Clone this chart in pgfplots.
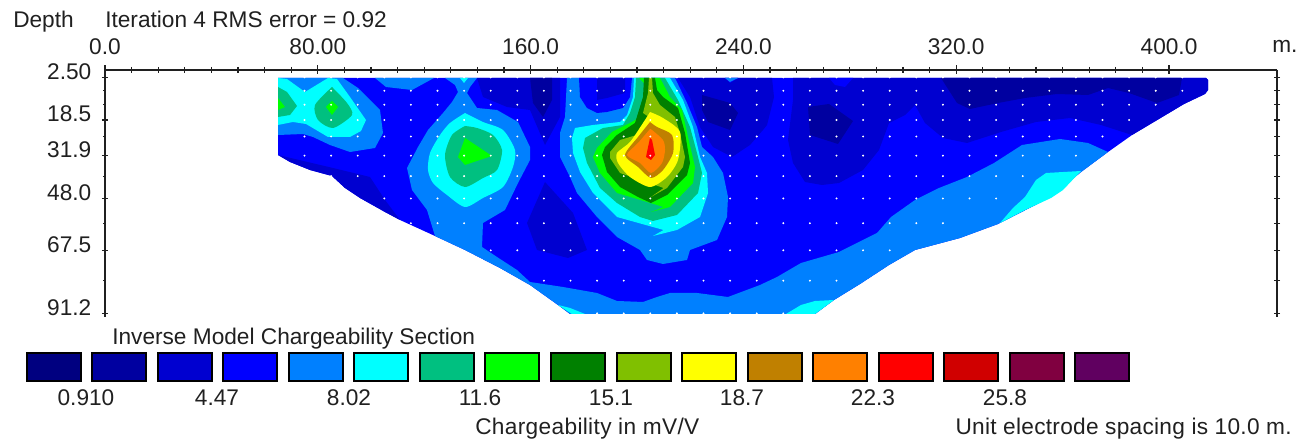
\documentclass[border=0pt]{standalone}
\usepackage{fontspec}
\setmainfont{Liberation Sans}
\usepackage{pgfplots}
\pgfplotsset{compat=1.18}
\definecolor{c1}{HTML}{000080}\definecolor{c2}{HTML}{0000A0}\definecolor{c3}{HTML}{0000D0}\definecolor{c4}{HTML}{0000FF}
\definecolor{c5}{HTML}{0080FF}\definecolor{c6}{HTML}{00FFFF}\definecolor{c7}{HTML}{00C080}\definecolor{c8}{HTML}{00FF00}
\definecolor{c9}{HTML}{008000}\definecolor{c10}{HTML}{80C000}\definecolor{c11}{HTML}{FFFF00}\definecolor{c12}{HTML}{C08000}
\definecolor{c13}{HTML}{FF8000}\definecolor{c14}{HTML}{FF0000}\definecolor{c15}{HTML}{D00000}\definecolor{c16}{HTML}{800040}\definecolor{c17}{HTML}{600060}
\definecolor{ink}{HTML}{202020}
\newcommand{\fs}{\fontsize{17}{19}\selectfont}
\pgfplotsset{
  every non boxed x axis/.append style={x axis line style={-}},every non boxed y axis/.append style={y axis line style={-}},
  sect/.style={scale only axis,width=879pt,height=185.25pt,xmin=0,xmax=440.6,ymin=-0.3,ymax=92.56,y dir=reverse,clip=false,
    axis line style={ink,line width=0.95pt},tick style={ink,line width=0.8pt},tick align=outside},
  poly/.style={fill=#1,draw=none,forget plot,x filter/.expression={(x-105)/2.66},y filter/.expression={(y-70.8)/2.66}},
  round/.style={poly=#1,smooth,tension=0.45},
}
\begin{document}
\begin{tikzpicture}
\path[use as bounding box] (-78.75pt,-93pt) rectangle (894.75pt,237.75pt);
\begin{axis}[sect,axis x line=top,axis y line=none,
  xtick={0,80,160,240,320,400},xticklabels={0.0,80.00,160.0,240.0,320.0,400.0},minor x tick num=7,
  major tick length=6.75pt,minor tick length=4.5pt,
  xticklabel style={font=\fs,text=ink,yshift=4.5pt}]
\addplot[poly=c4] coordinates {(278,78)(1206,78)(1208,80)(1208,90)(1205,94)(1184,104)(1132,135)(1108,152)(1081,172)(1051,197)(998,224)(960,238)(915,250)(889,265)(860,284)(834,300)(815,314)(570,314)(558,305)(530,285)(500,268)(465,250)(435,236)(400,220)(385,212)(360,198)(345,188)(332,176)(310,170)(290,162)(278,155)};
% darker zones
\addplot[poly=c3] coordinates {(278,155)(333,168)(370,177)(385,200)(400,220)(385,212)(360,198)(345,188)(332,176)(310,170)(290,162)};
\addplot[poly=c3] coordinates {(477,78)(483,97)(507,107)(530,110)(545,145)(560,117)(560,78)};
\addplot[poly=c2] coordinates {(530,78)(533,103)(543,117)(552,100)(552,78)};
\addplot[poly=c3] coordinates {(678,78)(690,97)(700,127)(713,147)(732,157)(750,145)(763,130)(767,125)(770,113)(774,97)(772,78)};
\addplot[poly=c2] coordinates {(702,95)(730,103)(738,113)(730,130)(708,122)(702,110)};
\addplot[poly=c4] coordinates {(725,78)(730,83)(738,78)};
\addplot[poly=c3] coordinates {(793,78)(793,100)(788,140)(793,163)(805,182)(822,185)(839,183)(863,170)(879,150)(889,123)(905,115)(915,105)(925,123)(943,138)(967,143)(1001,132)(1036,122)(1070,118)(1101,125)(1132,135)(1184,104)(1205,94)(1208,90)(1208,80)(1206,78)};
\addplot[poly=c4] coordinates {(829,78)(835,85)(845,87)(853,78)};
\addplot[poly=c2] coordinates {(808,107)(829,104)(853,121)(838,144)(810,135)};
\addplot[poly=c2] coordinates {(941,78)(957,103)(970,109)(998,103)(1025,98)(1057,94)(1088,95)(1108,88)(1129,93)(1157,103)(1179,95)(1182,78)};
\addplot[poly=c3] coordinates {(545,182)(527,223)(537,250)(568,258)(587,250)(573,213)};
% 8.02 level
\addplot[poly=c5] coordinates {(445,78)(455,85)(458,92)(452,102)(443,113)(428,130)(418,147)(407,168)(412,190)(427,210)(435,236)(465,250)(500,268)(530,285)(558,305)(570,314)(815,314)(834,300)(860,284)(889,265)(915,250)(960,238)(998,224)(1051,197)(1081,172)(1108,152)(1088,143)(1060,139)(1022,145)(994,163)(967,177)(939,188)(915,200)(891,217)(877,233)(839,252)(801,263)(777,277)(760,285)(728,297)(697,293)(670,293)(657,297)(643,302)(617,301)(597,293)(563,287)(530,282)(517,270)(497,257)(482,247)(483,223)(505,210)(518,183)(530,160)(530,147)(518,122)(497,110)(477,108)(467,93)(470,87)(477,78)};
\addplot[poly=c5] coordinates {(278,78)(343,78)(358,88)(380,110)(383,133)(375,148)(350,152)(330,145)(313,137)(303,134)(278,135)};
\addplot[poly=c5] coordinates {(375,78)(386,87)(412,90)(434,78)};
\addplot[poly=c5] coordinates {(567,78)(565,117)(560,133)(560,157)(570,177)(577,193)(597,217)(617,237)(640,250)(647,260)(663,264)(687,260)(690,250)(717,240)(727,217)(728,197)(723,173)(713,157)(702,147)(697,127)(687,103)(675,78)};
\addplot[poly=c4] coordinates {(579,78)(580,97)(587,108)(597,113)(607,112)(623,108)(630,97)(632,78)};
\addplot[poly=c3] coordinates {(597,78)(597,100)(607,98)(625,93)(625,78)};
\addplot[poly=c5] coordinates {(725,78)(730,82)(738,78)};
% cyan
\addplot[poly=c6] coordinates {(278,78)(287,79)(305,92)(328,78)(337,79)(350,97)(366,120)(361,131)(350,137)(328,137)(306,124)(293,122)(278,125)};
\addplot[round=c6] coordinates {(465,113)(450,123)(440,135)(430,153)(428,170)(433,183)(447,195)(465,207)(483,198)(503,187)(513,167)(515,150)(503,130)(483,122)(465,113)};
\addplot[poly=c6] coordinates {(460,78)(464,83)(468,78)};
\addplot[poly=c6] coordinates {(634,78)(633,97)(627,115)(620,122)(593,125)(575,128)(572,138)(573,153)(580,172)(593,193)(617,217)(637,230)(653,236)(677,230)(700,217)(708,193)(707,173)(700,157)(693,127)(683,100)(670,78)};
\addplot[poly=c6] coordinates {(558,305)(570,308)(585,314)(572,314)};
\addplot[poly=c6] coordinates {(786,314)(801,305)(815,301)(834,300)(815,314)};
\addplot[poly=c6] coordinates {(1000,223)(1013,208)(1025,197)(1036,180)(1046,173)(1081,171)(1063,190)(1051,198)(1025,210)};
% 11.6
\addplot[round=c7] coordinates {(332,87)(315,105)(318,120)(333,128)(352,115)(347,103)(332,87)};
\addplot[poly=c7] coordinates {(278,87)(287,92)(297,106)(290,115)(278,117)};
\addplot[round=c7] coordinates {(465,126)(452,135)(445,155)(450,177)(465,187)(483,178)(497,170)(502,150)(493,135)(477,128)(465,126)};
\addplot[poly=c7] coordinates {(636,78)(635,97)(630,113)(623,125)(603,128)(585,138)(583,148)(587,163)(600,188)(617,203)(640,217)(653,221)(677,215)(698,193)(702,173)(697,153)(690,127)(678,100)(665,78)};
% green
\addplot[poly=c8] coordinates {(332,101)(326,107)(332,115)(338,107)};
\addplot[poly=c8] coordinates {(278,98)(285,107)(278,110)};
\addplot[poly=c8] coordinates {(465,138)(458,157)(465,165)(492,156)};
\addplot[poly=c8] coordinates {(639,78)(637,103)(630,123)(612,132)(597,148)(593,157)(600,173)(617,193)(637,207)(651,212)(670,207)(693,183)(695,167)(688,137)(682,110)(670,97)(660,78)};
\addplot[poly=c9] coordinates {(644,78)(643,97)(635,123)(617,135)(605,147)(602,155)(607,172)(620,187)(638,197)(651,203)(667,195)(687,175)(690,163)(685,133)(678,108)(663,97)(657,90)(655,78)};
\addplot[poly=c10] coordinates {(649,78)(648,93)(643,113)(637,127)(620,140)(610,152)(610,158)(620,173)(637,188)(651,197)(667,188)(683,167)(685,157)(680,133)(675,117)(660,105)(653,93)(652,78)};
\addplot[round=c11] coordinates {(650,112)(643,123)(630,142)(617,153)(618,163)(630,177)(650,187)(667,177)(678,160)(680,132)(663,118)(650,112)};
\addplot[round=c12] coordinates {(650,122)(638,137)(625,155)(638,167)(651,178)(663,170)(673,153)(672,135)(657,127)(650,122)};
\addplot[round=c13] coordinates {(650,129)(638,143)(627,155)(640,163)(651,173)(662,163)(665,150)(663,140)(652,130)(650,129)};
\addplot[poly=c14] coordinates {(650,138)(647,152)(646,157)(651,160)(655,155)(652,140)};
% model block centres
\addplot[only marks,mark=*,mark size=0.5pt,white,forget plot,mark options={draw=none,fill=white}] coordinates {
(75,2.5)(85,2.5)(95,2.5)(105,2.5)(115,2.5)(125,2.5)(135,2.5)(145,2.5)(155,2.5)(165,2.5)(175,2.5)(185,2.5)(195,2.5)(205,2.5)(215,2.5)(225,2.5)(235,2.5)(245,2.5)(255,2.5)(265,2.5)(275,2.5)(285,2.5)(295,2.5)(305,2.5)(315,2.5)(325,2.5)(335,2.5)(345,2.5)(355,2.5)(365,2.5)(375,2.5)(385,2.5)(395,2.5)(405,2.5)
(75,7.5)(85,7.5)(95,7.5)(105,7.5)(115,7.5)(125,7.5)(135,7.5)(145,7.5)(155,7.5)(165,7.5)(175,7.5)(185,7.5)(195,7.5)(205,7.5)(215,7.5)(225,7.5)(235,7.5)(245,7.5)(255,7.5)(265,7.5)(275,7.5)(285,7.5)(295,7.5)(305,7.5)(315,7.5)(325,7.5)(335,7.5)(345,7.5)(355,7.5)(365,7.5)(375,7.5)(385,7.5)(395,7.5)(405,7.5)
(75,12.75)(85,12.75)(95,12.75)(105,12.75)(115,12.75)(125,12.75)(135,12.75)(145,12.75)(155,12.75)(165,12.75)(175,12.75)(185,12.75)(195,12.75)(205,12.75)(215,12.75)(225,12.75)(235,12.75)(245,12.75)(255,12.75)(265,12.75)(275,12.75)(285,12.75)(295,12.75)(305,12.75)(315,12.75)(325,12.75)(335,12.75)(345,12.75)(355,12.75)(365,12.75)(375,12.75)(385,12.75)(395,12.75)
(75,18.5)(85,18.5)(95,18.5)(105,18.5)(115,18.5)(125,18.5)(135,18.5)(145,18.5)(155,18.5)(165,18.5)(175,18.5)(185,18.5)(195,18.5)(205,18.5)(215,18.5)(225,18.5)(235,18.5)(245,18.5)(255,18.5)(265,18.5)(275,18.5)(285,18.5)(295,18.5)(305,18.5)(315,18.5)(325,18.5)(335,18.5)(345,18.5)(355,18.5)(365,18.5)(375,18.5)(385,18.5)
(75,24.7)(85,24.7)(95,24.7)(105,24.7)(115,24.7)(125,24.7)(135,24.7)(145,24.7)(155,24.7)(165,24.7)(175,24.7)(185,24.7)(195,24.7)(205,24.7)(215,24.7)(225,24.7)(235,24.7)(245,24.7)(255,24.7)(265,24.7)(275,24.7)(285,24.7)(295,24.7)(305,24.7)(315,24.7)(325,24.7)(335,24.7)(345,24.7)(355,24.7)(365,24.7)(375,24.7)
(75,31.9)(85,31.9)(95,31.9)(105,31.9)(115,31.9)(125,31.9)(135,31.9)(145,31.9)(155,31.9)(165,31.9)(175,31.9)(185,31.9)(195,31.9)(205,31.9)(215,31.9)(225,31.9)(235,31.9)(245,31.9)(255,31.9)(265,31.9)(275,31.9)(285,31.9)(295,31.9)(305,31.9)(315,31.9)(325,31.9)(335,31.9)(345,31.9)(355,31.9)(365,31.9)
(85,39.6)(95,39.6)(105,39.6)(115,39.6)(125,39.6)(135,39.6)(145,39.6)(155,39.6)(165,39.6)(175,39.6)(185,39.6)(195,39.6)(205,39.6)(215,39.6)(225,39.6)(235,39.6)(245,39.6)(255,39.6)(265,39.6)(275,39.6)(285,39.6)(295,39.6)(305,39.6)(315,39.6)(325,39.6)(335,39.6)(345,39.6)
(105,48)(115,48)(125,48)(135,48)(145,48)(155,48)(165,48)(175,48)(185,48)(195,48)(205,48)(215,48)(225,48)(235,48)(245,48)(255,48)(265,48)(275,48)(285,48)(295,48)(305,48)(315,48)(325,48)(335,48)
(115,57.3)(125,57.3)(135,57.3)(145,57.3)(155,57.3)(165,57.3)(175,57.3)(185,57.3)(195,57.3)(205,57.3)(215,57.3)(225,57.3)(235,57.3)(245,57.3)(255,57.3)(265,57.3)(275,57.3)(285,57.3)(295,57.3)(305,57.3)(315,57.3)
(145,67.5)(155,67.5)(165,67.5)(175,67.5)(185,67.5)(195,67.5)(205,67.5)(215,67.5)(225,67.5)(235,67.5)(245,67.5)(255,67.5)(265,67.5)(275,67.5)(285,67.5)(295,67.5)
(165,78.9)(175,78.9)(185,78.9)(195,78.9)(205,78.9)(215,78.9)(225,78.9)(235,78.9)(245,78.9)(255,78.9)(265,78.9)(275,78.9)
(185,91.2)(195,91.2)(205,91.2)(215,91.2)(225,91.2)(235,91.2)(245,91.2)(255,91.2)
};
\end{axis}
% left depth axis
\begin{axis}[sect,axis x line=none,axis y line=left,
  ytick={2.5,18.5,31.9,48,67.5,91.2},yticklabels={2.50,18.5,31.9,48.0,67.5,91.2},
  minor ytick={7.5,12.75,24.7,39.6,57.3,78.9},major tick length=4.5pt,minor tick length=2.25pt,
  yticklabel style={font=\fs,text=ink,yshift=4.5pt,xshift=-4.5pt}]
\addplot[draw=none,forget plot] coordinates {(0,0)};
\end{axis}
% right depth axis
\begin{axis}[sect,axis x line=none,axis y line=right,yticklabels={},
  ytick={2.5,7.5,12.75,18.5,24.7,31.9,39.6,48,57.3,67.5,78.9,91.2},major tick length=4.5pt]
\addplot[draw=none,forget plot] coordinates {(0,0)};
\end{axis}
% colour key and captions, in picture pixels
\begin{axis}[at={(-78.75pt,-93pt)},anchor=south west,scale only axis,width=973.5pt,height=330.75pt,xmin=0,xmax=1298,ymin=0,ymax=441,y dir=reverse,hide axis,clip=false]
\addplot[fill=c1,draw=black,line width=1pt] coordinates {(27,353)(81,353)(81,381)(27,381)} -- cycle;
\addplot[fill=c2,draw=black,line width=1pt] coordinates {(92,353)(146,353)(146,381)(92,381)} -- cycle;
\addplot[fill=c3,draw=black,line width=1pt] coordinates {(158,353)(212,353)(212,381)(158,381)} -- cycle;
\addplot[fill=c4,draw=black,line width=1pt] coordinates {(223,353)(277,353)(277,381)(223,381)} -- cycle;
\addplot[fill=c5,draw=black,line width=1pt] coordinates {(289,353)(343,353)(343,381)(289,381)} -- cycle;
\addplot[fill=c6,draw=black,line width=1pt] coordinates {(354,353)(408,353)(408,381)(354,381)} -- cycle;
\addplot[fill=c7,draw=black,line width=1pt] coordinates {(420,353)(474,353)(474,381)(420,381)} -- cycle;
\addplot[fill=c8,draw=black,line width=1pt] coordinates {(485,353)(539,353)(539,381)(485,381)} -- cycle;
\addplot[fill=c9,draw=black,line width=1pt] coordinates {(551,353)(605,353)(605,381)(551,381)} -- cycle;
\addplot[fill=c10,draw=black,line width=1pt] coordinates {(617,353)(671,353)(671,381)(617,381)} -- cycle;
\addplot[fill=c11,draw=black,line width=1pt] coordinates {(682,353)(736,353)(736,381)(682,381)} -- cycle;
\addplot[fill=c12,draw=black,line width=1pt] coordinates {(748,353)(802,353)(802,381)(748,381)} -- cycle;
\addplot[fill=c13,draw=black,line width=1pt] coordinates {(813,353)(867,353)(867,381)(813,381)} -- cycle;
\addplot[fill=c14,draw=black,line width=1pt] coordinates {(879,353)(933,353)(933,381)(879,381)} -- cycle;
\addplot[fill=c15,draw=black,line width=1pt] coordinates {(944,353)(998,353)(998,381)(944,381)} -- cycle;
\addplot[fill=c16,draw=black,line width=1pt] coordinates {(1010,353)(1064,353)(1064,381)(1010,381)} -- cycle;
\addplot[fill=c17,draw=black,line width=1pt] coordinates {(1075,353)(1129,353)(1129,381)(1075,381)} -- cycle;
\tikzset{every node/.style={font=\fs,text=ink,inner sep=0pt}}
\node[anchor=base west] at (axis cs:13,28) {Depth};
\node[anchor=base west] at (axis cs:105,28) {Iteration 4 RMS error = 0.92};
\node[anchor=base west] at (axis cs:1272,53) {m.};
\node[anchor=base west] at (axis cs:112,344) {Inverse Model Chargeability Section};
\node[anchor=base] at (axis cs:86,405) {0.910};
\node[anchor=base] at (axis cs:217,405) {4.47};
\node[anchor=base] at (axis cs:349,405) {8.02};
\node[anchor=base] at (axis cs:480,405) {11.6};
\node[anchor=base] at (axis cs:611,405) {15.1};
\node[anchor=base] at (axis cs:742,405) {18.7};
\node[anchor=base] at (axis cs:873,405) {22.3};
\node[anchor=base] at (axis cs:1005,405) {25.8};
\node[anchor=base west] at (axis cs:475,434) {\addfontfeature{LetterSpace=1.5}Chargeability in mV/V};
\node[anchor=base east] at (axis cs:1292,434) {\addfontfeature{LetterSpace=1.2}Unit electrode spacing is 10.0 m.};
\end{axis}
\end{tikzpicture}
\end{document}
